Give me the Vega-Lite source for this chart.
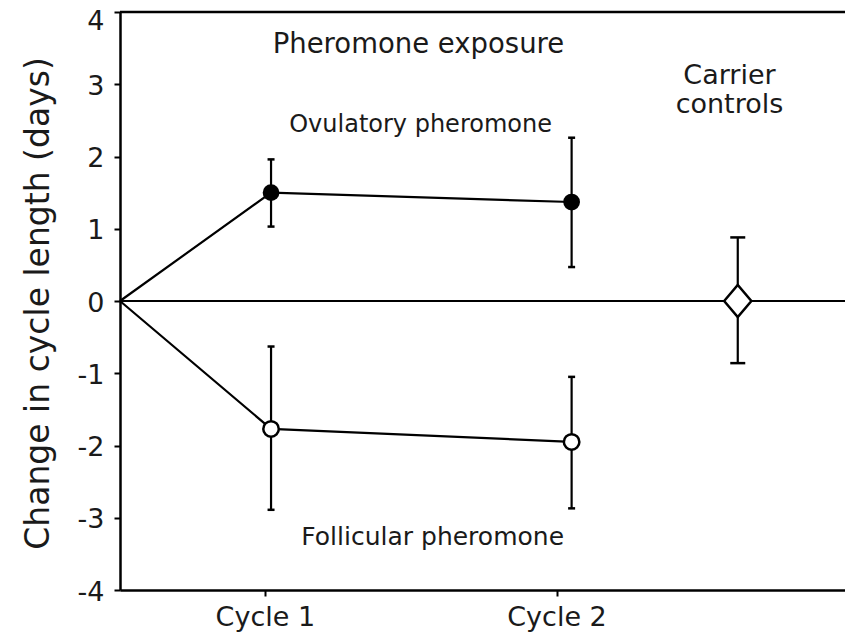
{
  "$schema": "https://vega.github.io/schema/vega-lite/v6.json",
  "autosize": {"type": "none"},
  "width": 725,
  "height": 578,
  "padding": {"left": 120, "top": 12, "right": 0, "bottom": 45},
  "background": "white",
  "config": {"view": {"stroke": null}, "font": "DejaVu Sans"},
  "datasets": {
    "series": [
      {"series": "Ovulatory", "x": 0, "y": 0},
      {"series": "Ovulatory", "x": 1, "y": 1.5},
      {"series": "Ovulatory", "x": 2.99, "y": 1.37},
      {"series": "Follicular", "x": 0, "y": 0},
      {"series": "Follicular", "x": 1, "y": -1.77},
      {"series": "Follicular", "x": 2.99, "y": -1.95}
    ],
    "stats": [
      {"group": "Ovulatory", "x": 1, "y": 1.5, "lo": 1.03, "hi": 1.96},
      {"group": "Ovulatory", "x": 2.99, "y": 1.37, "lo": 0.47, "hi": 2.26},
      {"group": "Follicular", "x": 1, "y": -1.77, "lo": -2.89, "hi": -0.63},
      {"group": "Follicular", "x": 2.99, "y": -1.95, "lo": -2.87, "hi": -1.05},
      {"group": "Carrier", "x": 4.09, "y": 0, "lo": -0.86, "hi": 0.88}
    ]
  },
  "layer": [
    {
      "data": {"name": "series"},
      "mark": {"type": "line", "color": "black", "strokeWidth": 2.2},
      "encoding": {
        "x": {
          "field": "x", "type": "quantitative", "title": null,
          "scale": {"domain": [0, 4.8], "nice": false, "zero": false},
          "axis": {
            "values": [0.959, 2.89],
            "labelExpr": "datum.value < 1.5 ? 'Cycle 1' : 'Cycle 2'",
            "title": null, "grid": false,
            "domainColor": "black", "domainWidth": 2.5,
            "tickColor": "black", "tickWidth": 2, "tickSize": 6,
            "labelFontSize": 27, "labelColor": "#1a1a1a", "labelPadding": 8,
            "labelFlush": false, "labelOverlap": false
          }
        },
        "y": {
          "field": "y", "type": "quantitative", "title": "Change in cycle length (days)",
          "scale": {"domain": [-4, 4], "nice": false, "zero": false},
          "axis": {
            "values": [-4, -3.5, -3, -2.5, -2, -1.5, -1, -0.5, 0, 0.5, 1, 1.5, 2, 2.5, 3, 3.5, 4],
            "labelExpr": "datum.value % 1 == 0 ? '' + datum.value : ''",
            "tickSize": {"condition": {"test": "datum.value % 1 == 0", "value": 6}, "value": 3},
            "labelOffset": {"condition": {"test": "datum.value == 4", "value": 9}, "value": 2},
            "titleFontSize": 33, "titleFontWeight": "normal", "titleColor": "#1a1a1a",
            "titleAngle": -90, "titleX": -72, "titleY": 291,
            "titleBaseline": "alphabetic", "titleAlign": "center",
            "grid": false,
            "domainColor": "black", "domainWidth": 2.5,
            "tickColor": "black", "tickWidth": 2,
            "labelFontSize": 27, "labelColor": "#1a1a1a", "labelPadding": 10,
            "labelOverlap": false, "labelFlush": false
          }
        },
        "detail": {"field": "series"}
      }
    },
    {
      "data": {"values": [{"v": 0}]},
      "mark": {"type": "rule", "color": "black", "strokeWidth": 2.2},
      "encoding": {"y": {"field": "v", "type": "quantitative", "title": "Change in cycle length (days)"}}
    },
    {
      "data": {"values": [{"v": 4}]},
      "mark": {"type": "rule", "color": "black", "strokeWidth": 2.5},
      "encoding": {"y": {"field": "v", "type": "quantitative", "title": "Change in cycle length (days)"}}
    },
    {
      "data": {"name": "stats"},
      "mark": {"type": "rule", "color": "black", "strokeWidth": 2.2},
      "encoding": {
        "x": {"field": "x", "type": "quantitative", "title": null},
        "y": {"field": "lo", "type": "quantitative", "title": "Change in cycle length (days)"},
        "y2": {"field": "hi"}
      }
    },
    {
      "data": {"name": "stats"},
      "transform": [
        {"filter": "datum.group != 'Carrier'"},
        {"fold": ["lo", "hi"], "as": ["end", "val"]}
      ],
      "mark": {"type": "point", "shape": "stroke", "size": 49, "color": "black", "strokeWidth": 2.5, "opacity": 1},
      "encoding": {
        "x": {"field": "x", "type": "quantitative", "title": null},
        "y": {"field": "val", "type": "quantitative", "title": "Change in cycle length (days)"}
      }
    },
    {
      "data": {"name": "stats"},
      "transform": [
        {"filter": "datum.group == 'Carrier'"},
        {"fold": ["lo", "hi"], "as": ["end", "val"]}
      ],
      "mark": {"type": "point", "shape": "stroke", "size": 225, "color": "black", "strokeWidth": 2.5, "opacity": 1},
      "encoding": {
        "x": {"field": "x", "type": "quantitative", "title": null},
        "y": {"field": "val", "type": "quantitative", "title": "Change in cycle length (days)"}
      }
    },
    {
      "data": {"name": "stats"},
      "transform": [{"filter": "datum.group == 'Ovulatory'"}],
      "mark": {"type": "point", "shape": "circle", "size": 280, "filled": true, "color": "black", "opacity": 1},
      "encoding": {
        "x": {"field": "x", "type": "quantitative", "title": null},
        "y": {"field": "y", "type": "quantitative", "title": "Change in cycle length (days)"}
      }
    },
    {
      "data": {"name": "stats"},
      "transform": [{"filter": "datum.group == 'Follicular'"}],
      "mark": {"type": "point", "shape": "circle", "size": 240, "filled": false, "fill": "white", "stroke": "black", "strokeWidth": 2.5, "opacity": 1, "fillOpacity": 1},
      "encoding": {
        "x": {"field": "x", "type": "quantitative", "title": null},
        "y": {"field": "y", "type": "quantitative", "title": "Change in cycle length (days)"}
      }
    },
    {
      "data": {"name": "stats"},
      "transform": [{"filter": "datum.group == 'Carrier'"}],
      "mark": {"type": "point", "shape": "M-0.85,0L0,-1L0.85,0L0,1Z", "size": 1024, "filled": false, "fill": "white", "stroke": "black", "strokeWidth": 2.5, "opacity": 1, "fillOpacity": 1},
      "encoding": {
        "x": {"field": "x", "type": "quantitative", "title": null},
        "y": {"field": "y", "type": "quantitative", "title": "Change in cycle length (days)"}
      }
    },
    {
      "data": {"values": [{"x": 1.976, "y": 3.43, "label": "Pheromone exposure"}]},
      "mark": {"type": "text", "fontSize": 27.5, "color": "#1a1a1a", "align": "center", "baseline": "alphabetic"},
      "encoding": {
        "x": {"field": "x", "type": "quantitative", "title": null},
        "y": {"field": "y", "type": "quantitative", "title": "Change in cycle length (days)"},
        "text": {"field": "label"}
      }
    },
    {
      "data": {"values": [{"x": 1.99, "y": 2.34, "label": "Ovulatory pheromone"}]},
      "mark": {"type": "text", "fontSize": 24, "color": "#1a1a1a", "align": "center", "baseline": "alphabetic"},
      "encoding": {
        "x": {"field": "x", "type": "quantitative", "title": null},
        "y": {"field": "y", "type": "quantitative", "title": "Change in cycle length (days)"},
        "text": {"field": "label"}
      }
    },
    {
      "data": {"values": [{"x": 4.035, "y": 3.0, "label": "Carrier"}, {"x": 4.035, "y": 2.6, "label": "controls"}]},
      "mark": {"type": "text", "fontSize": 27, "color": "#1a1a1a", "align": "center", "baseline": "alphabetic"},
      "encoding": {
        "x": {"field": "x", "type": "quantitative", "title": null},
        "y": {"field": "y", "type": "quantitative", "title": "Change in cycle length (days)"},
        "text": {"field": "label"}
      }
    },
    {
      "data": {"values": [{"x": 2.07, "y": -3.38, "label": "Follicular pheromone"}]},
      "mark": {"type": "text", "fontSize": 25, "color": "#1a1a1a", "align": "center", "baseline": "alphabetic"},
      "encoding": {
        "x": {"field": "x", "type": "quantitative", "title": null},
        "y": {"field": "y", "type": "quantitative", "title": "Change in cycle length (days)"},
        "text": {"field": "label"}
      }
    }
  ]
}
